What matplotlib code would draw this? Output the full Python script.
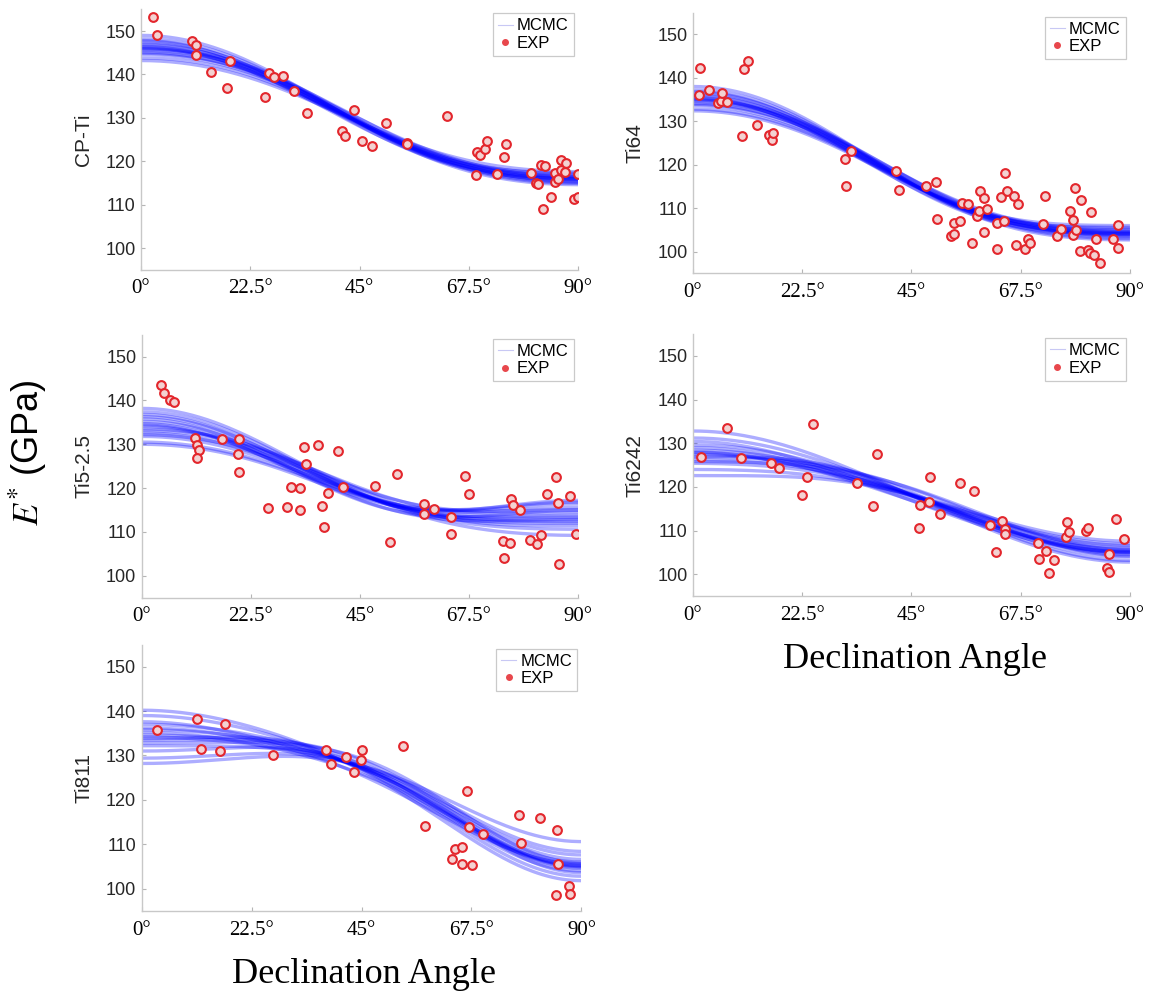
import numpy as np
import matplotlib
matplotlib.use('Agg')
import matplotlib.pyplot as plt
from matplotlib.lines import Line2D

plt.rcParams['font.family'] = 'Liberation Sans'
plt.rcParams['mathtext.fontset'] = 'stix'

# Данные: название сплава, экспериментальные точки (угол, E*) и выборки MCMC
# выборка MCMC = значения модели при 0°, 30°, 60°, 90°
alloys = ['CP-Ti', 'Ti64', 'Ti5-2.5', 'Ti6242', 'Ti811']

cpti_ang = [2.5, 3.3, 10.4, 11.3, 11.3, 14.5, 18.3, 17.8, 25.5, 26.3, 27.3, 29.3, 31.5, 34.2,
            41.3, 42.1, 43.9, 45.5, 47.6, 50.4, 54.8, 54.7, 63.0, 69.0, 69.1, 69.9, 70.9, 71.3,
            73.4, 74.8, 75.1, 80.4, 81.4, 81.8, 82.3, 83.2, 82.7, 84.5, 85.3, 85.3, 85.8, 86.4,
            86.4, 87.3, 87.6, 89.2, 89.9, 89.9]
cpti_e = [153.3, 149.1, 147.8, 146.7, 144.4, 140.5, 143.2, 136.8, 134.8, 140.4, 139.5, 139.7,
          136.1, 131.0, 127.0, 125.7, 131.7, 124.7, 123.6, 128.8, 124.3, 124.0, 130.5, 116.9,
          122.2, 121.4, 122.9, 124.6, 117.1, 120.9, 123.9, 117.3, 114.9, 114.7, 119.1, 118.8,
          109.0, 111.7, 117.2, 115.1, 115.8, 120.3, 117.9, 117.6, 119.5, 111.2, 111.7, 117.1]

ti64_ang = [1.4, 1.2, 3.4, 5.2, 5.8, 6.0, 7.1, 10.2, 10.6, 11.3, 13.1, 15.6, 16.2, 16.4, 31.4,
            31.5, 32.5, 41.8, 42.4, 47.9, 50.0, 50.3, 53.1, 53.7, 53.7, 54.9, 55.5, 56.7, 57.4,
            58.6, 58.9, 59.1, 60.0, 60.0, 60.6, 62.6, 62.6, 63.4, 64.0, 64.2, 64.6, 66.2, 66.6,
            66.9, 68.4, 69.0, 69.4, 72.0, 72.5, 74.9, 75.7, 77.7, 78.2, 78.3, 78.6, 78.9, 79.7,
            80.0, 81.3, 81.8, 82.0, 82.7, 83.0, 83.8, 86.6, 87.5, 87.6]
ti64_e = [142.2, 136.1, 137.1, 134.1, 134.7, 136.4, 134.4, 126.5, 142.0, 143.9, 129.1, 126.8,
          125.6, 127.4, 121.4, 115.0, 123.2, 118.6, 114.3, 115.0, 116.1, 107.4, 103.5, 104.0,
          106.7, 107.1, 111.3, 110.9, 102.1, 108.2, 109.4, 113.9, 112.4, 104.6, 109.8, 106.7,
          100.6, 112.5, 107.1, 118.0, 114.0, 112.7, 101.5, 110.9, 100.6, 102.8, 102.1, 106.4,
          112.7, 103.5, 105.1, 109.4, 107.3, 103.8, 114.6, 105.0, 100.1, 111.9, 100.3, 99.8,
          109.1, 99.2, 102.9, 97.5, 102.8, 106.1, 100.8]

ti525_ang = [4.0, 4.6, 5.9, 6.7, 11.0, 11.3, 11.7, 11.3, 16.6, 20.0, 19.8, 20.0, 26.1, 29.9,
             30.7, 32.6, 32.7, 33.4, 33.8, 36.3, 37.2, 37.6, 38.4, 40.4, 41.5, 48.1, 51.3, 52.7,
             58.2, 58.2, 60.2, 63.7, 63.7, 66.7, 67.6, 74.6, 74.7, 75.9, 76.2, 76.5, 78.0, 80.1,
             81.5, 82.3, 83.7, 85.5, 85.8, 86.1, 88.4, 89.6]
ti525_e = [143.5, 141.7, 140.1, 139.7, 131.4, 129.8, 128.8, 126.8, 131.2, 131.3, 127.8, 123.6,
           115.4, 115.7, 120.2, 115.1, 120.0, 129.4, 125.6, 129.9, 116.0, 111.1, 118.9, 128.4,
           120.2, 120.5, 107.6, 123.2, 116.3, 114.0, 115.3, 113.4, 109.5, 122.8, 118.6, 107.9,
           104.0, 107.5, 117.4, 116.2, 114.9, 108.2, 107.3, 109.3, 118.6, 122.6, 116.5, 102.7,
           118.3, 109.5]

ti6242_ang = [1.7, 7.1, 9.8, 16.0, 17.7, 22.5, 23.5, 24.8, 33.7, 37.1, 38.0, 46.6, 46.7, 48.7,
              48.8, 50.9, 54.9, 57.8, 61.1, 62.4, 63.6, 64.3, 64.2, 71.1, 71.3, 72.7, 73.4, 74.4,
              76.8, 77.0, 77.5, 81.0, 81.4, 85.2, 85.6, 85.7, 87.2, 88.7]
ti6242_e = [126.9, 133.4, 126.6, 125.5, 124.3, 118.2, 122.2, 134.5, 121.0, 115.6, 127.5, 110.5,
            115.9, 116.5, 122.3, 113.7, 120.9, 119.0, 111.3, 105.0, 112.1, 110.4, 109.3, 107.1,
            103.6, 105.3, 100.4, 103.2, 108.6, 111.9, 109.6, 109.9, 110.5, 101.5, 100.5, 104.6,
            112.7, 108.1]

ti811_ang = [3.2, 11.4, 12.1, 16.0, 17.0, 26.8, 37.8, 38.8, 41.9, 43.4, 44.9, 45.0, 53.4, 58.0,
             63.6, 64.1, 65.5, 65.5, 66.6, 67.0, 67.6, 69.8, 77.3, 77.7, 81.5, 85.0, 84.8, 85.3,
             87.4, 87.6]
ti811_e = [135.7, 138.3, 131.4, 131.0, 137.0, 130.2, 131.3, 128.0, 129.7, 126.2, 129.0, 131.3,
           132.1, 114.1, 106.7, 109.0, 109.4, 105.6, 122.0, 113.8, 105.3, 112.3, 116.5, 110.2,
           116.0, 113.2, 98.5, 105.5, 100.6, 98.9]

cpti_mcmc = [(146.0, 137.5, 121.2, 116.0), (147.5, 138.0, 121.0, 115.2), (144.6, 137.0, 121.6, 116.8),
             (148.2, 138.3, 120.8, 114.9), (145.2, 137.2, 121.9, 117.0), (146.8, 137.9, 121.3, 115.5),
             (143.8, 136.6, 121.5, 117.3), (147.0, 137.4, 120.6, 115.8), (145.6, 138.2, 122.0, 116.2),
             (146.4, 136.9, 120.9, 116.5), (149.0, 138.6, 120.5, 114.6), (144.9, 137.7, 122.3, 116.4),
             (146.2, 137.1, 121.4, 115.3), (143.2, 136.2, 122.4, 117.6), (147.8, 137.8, 121.7, 115.9),
             (145.9, 138.4, 121.1, 116.1)]
ti64_mcmc = [(135.0, 125.0, 108.3, 104.2), (136.5, 125.6, 108.0, 103.4), (133.6, 124.4, 108.7, 105.0),
             (137.2, 125.9, 107.8, 103.0), (134.2, 124.8, 108.9, 105.3), (135.8, 125.3, 108.4, 103.8),
             (132.8, 124.1, 108.6, 105.6), (136.0, 124.7, 107.6, 104.0), (134.6, 125.7, 109.1, 104.4),
             (135.4, 124.3, 108.1, 104.7), (138.0, 126.2, 107.5, 102.7), (133.9, 125.2, 109.4, 104.6),
             (135.2, 124.6, 108.5, 103.6), (132.4, 123.8, 109.0, 106.0), (136.8, 125.4, 108.2, 104.1),
             (134.9, 125.9, 108.8, 104.3)]
ti525_mcmc = [(134.0, 125.6, 114.2, 113.8), (136.3, 126.4, 113.8, 112.0), (131.8, 124.8, 114.8, 115.6),
              (137.4, 126.9, 113.4, 110.6), (132.6, 125.2, 115.1, 116.4), (135.2, 126.0, 114.0, 113.0),
              (130.5, 124.2, 115.2, 116.8), (135.8, 125.0, 113.2, 112.8), (133.1, 126.6, 115.4, 114.4),
              (134.7, 124.6, 113.6, 114.9), (138.2, 127.3, 112.9, 109.2), (132.2, 125.9, 115.6, 115.1),
              (134.4, 124.9, 114.1, 112.3), (130.0, 123.8, 114.9, 117.2), (136.8, 126.2, 114.5, 113.4),
              (133.5, 126.8, 113.9, 111.4)]
ti6242_mcmc = [(127.5, 123.2, 112.0, 105.1), (129.6, 124.0, 111.6, 104.0), (125.4, 122.5, 112.6, 106.2),
               (131.2, 124.6, 111.2, 103.2), (126.2, 122.9, 112.9, 106.6), (128.4, 123.6, 112.1, 104.6),
               (124.0, 121.8, 113.0, 107.0), (129.0, 122.8, 111.0, 105.0), (126.8, 124.2, 113.2, 105.4),
               (128.0, 122.3, 111.5, 105.8), (132.8, 125.2, 110.8, 102.8), (125.8, 123.8, 113.6, 105.6),
               (127.8, 122.6, 112.3, 104.2), (122.6, 121.4, 113.4, 107.6), (130.4, 123.4, 111.9, 104.9),
               (127.0, 124.4, 111.8, 105.2)]
ti811_mcmc = [(134.6, 132.0, 118.8, 105.3), (137.0, 132.8, 118.0, 104.0), (132.2, 131.2, 119.6, 106.6),
              (139.0, 133.4, 117.4, 102.8), (131.0, 131.6, 120.2, 107.6), (135.8, 132.4, 118.6, 104.8),
              (129.4, 130.4, 120.6, 108.4), (136.2, 131.6, 117.2, 105.6), (133.4, 133.0, 120.0, 105.0),
              (135.2, 130.9, 118.2, 106.0), (140.2, 133.8, 116.6, 101.8), (132.8, 132.6, 121.0, 105.8),
              (134.2, 131.4, 119.2, 103.6), (128.2, 129.8, 121.4, 110.6), (137.6, 132.2, 119.0, 104.6),
              (133.8, 133.2, 118.4, 105.2)]

knot_angles = [0, 30, 60, 90]
xtick_vals = [0, 22.5, 45, 67.5, 90]
xtick_labels = ['0°', '22.5°', '45°', '67.5°', '90°']
ytick_vals = [100, 110, 120, 130, 140, 150]

exp_data = [(cpti_ang, cpti_e), (ti64_ang, ti64_e), (ti525_ang, ti525_e),
            (ti6242_ang, ti6242_e), (ti811_ang, ti811_e)]
mcmc_data = [cpti_mcmc, ti64_mcmc, ti525_mcmc, ti6242_mcmc, ti811_mcmc]

# положение осей в долях рисунка [left, bottom, width, height]
positions = [[0.1223, 0.7281, 0.3790, 0.2625],
             [0.6010, 0.7244, 0.3790, 0.2629],
             [0.1230, 0.3976, 0.3783, 0.2649],
             [0.6010, 0.3990, 0.3790, 0.2643],
             [0.1228, 0.0818, 0.3815, 0.2685]]


def model_curve(knot_vals, theta):
    # модель E*(θ) = A0 + A2 cos2θ + A4 cos4θ + A6 cos6θ через значения в узлах
    k = np.radians(knot_angles)
    basis = np.array([[np.cos(2 * j * a) for j in range(4)] for a in k])
    coef = np.linalg.solve(basis, np.array(knot_vals))
    t = np.radians(theta)
    return sum(c * np.cos(2 * j * t) for j, c in enumerate(coef))


fig = plt.figure(figsize=(11.53, 9.92), dpi=100)
theta = np.linspace(0, 90, 181)

for name, pos, (ang, ev), samples in zip(alloys, positions, exp_data, mcmc_data):
    ax = fig.add_axes(pos)
    for s in samples:
        ax.plot(theta, model_curve(s, theta), color=(0.0, 0.0, 1.0), lw=2.4, alpha=0.32,
                solid_capstyle='butt')
    ax.plot(ang, ev, 'o', ms=6.3, mfc='#f3d2d2', mec='#e3262c', mew=1.5, zorder=5)

    ax.set_xlim(0, 90)
    ax.set_ylim(95, 155)
    ax.set_xticks(xtick_vals)
    ax.set_xticklabels(xtick_labels, fontfamily='Liberation Serif', fontsize=15)
    ax.set_yticks(ytick_vals)
    ax.tick_params(axis='y', labelsize=13, labelcolor='#262626', pad=4)
    ax.tick_params(axis='x', pad=7)
    ax.tick_params(direction='in', length=3, width=0.8, color='#b5b5b5')
    for side in ['top', 'right']:
        ax.spines[side].set_visible(False)
    for side in ['left', 'bottom']:
        ax.spines[side].set_color('#c8c8c8')
        ax.spines[side].set_linewidth(1.0)
    ax.set_ylabel(name, fontsize=15, color='#262626', labelpad=9)

    handles = [Line2D([], [], color='#c8c8f4', lw=0.8),
               Line2D([], [], marker='o', ls='', ms=4, mfc='#e8474c', mec='#e8474c')]
    leg = ax.legend(handles, ['MCMC', 'EXP'], loc='upper right', fontsize=12,
                    frameon=True, fancybox=False, handlelength=0.9, handletextpad=0.25,
                    borderpad=0.3, labelspacing=0.15, borderaxespad=0.25)
    leg.get_frame().set_edgecolor('#bdbdbd')
    leg.get_frame().set_linewidth(0.9)

fig.text(0.024, 0.544, r'$E^{*}$ (GPa)', rotation=90, fontsize=26,
         ha='center', va='center')
fig.text(0.794, 0.327, 'Declination Angle', fontfamily='Liberation Serif', fontsize=26,
         ha='center', va='baseline')
fig.text(0.316, 0.009, 'Declination Angle', fontfamily='Liberation Serif', fontsize=26,
         ha='center', va='baseline')

fig.savefig('out.png', dpi=100)
